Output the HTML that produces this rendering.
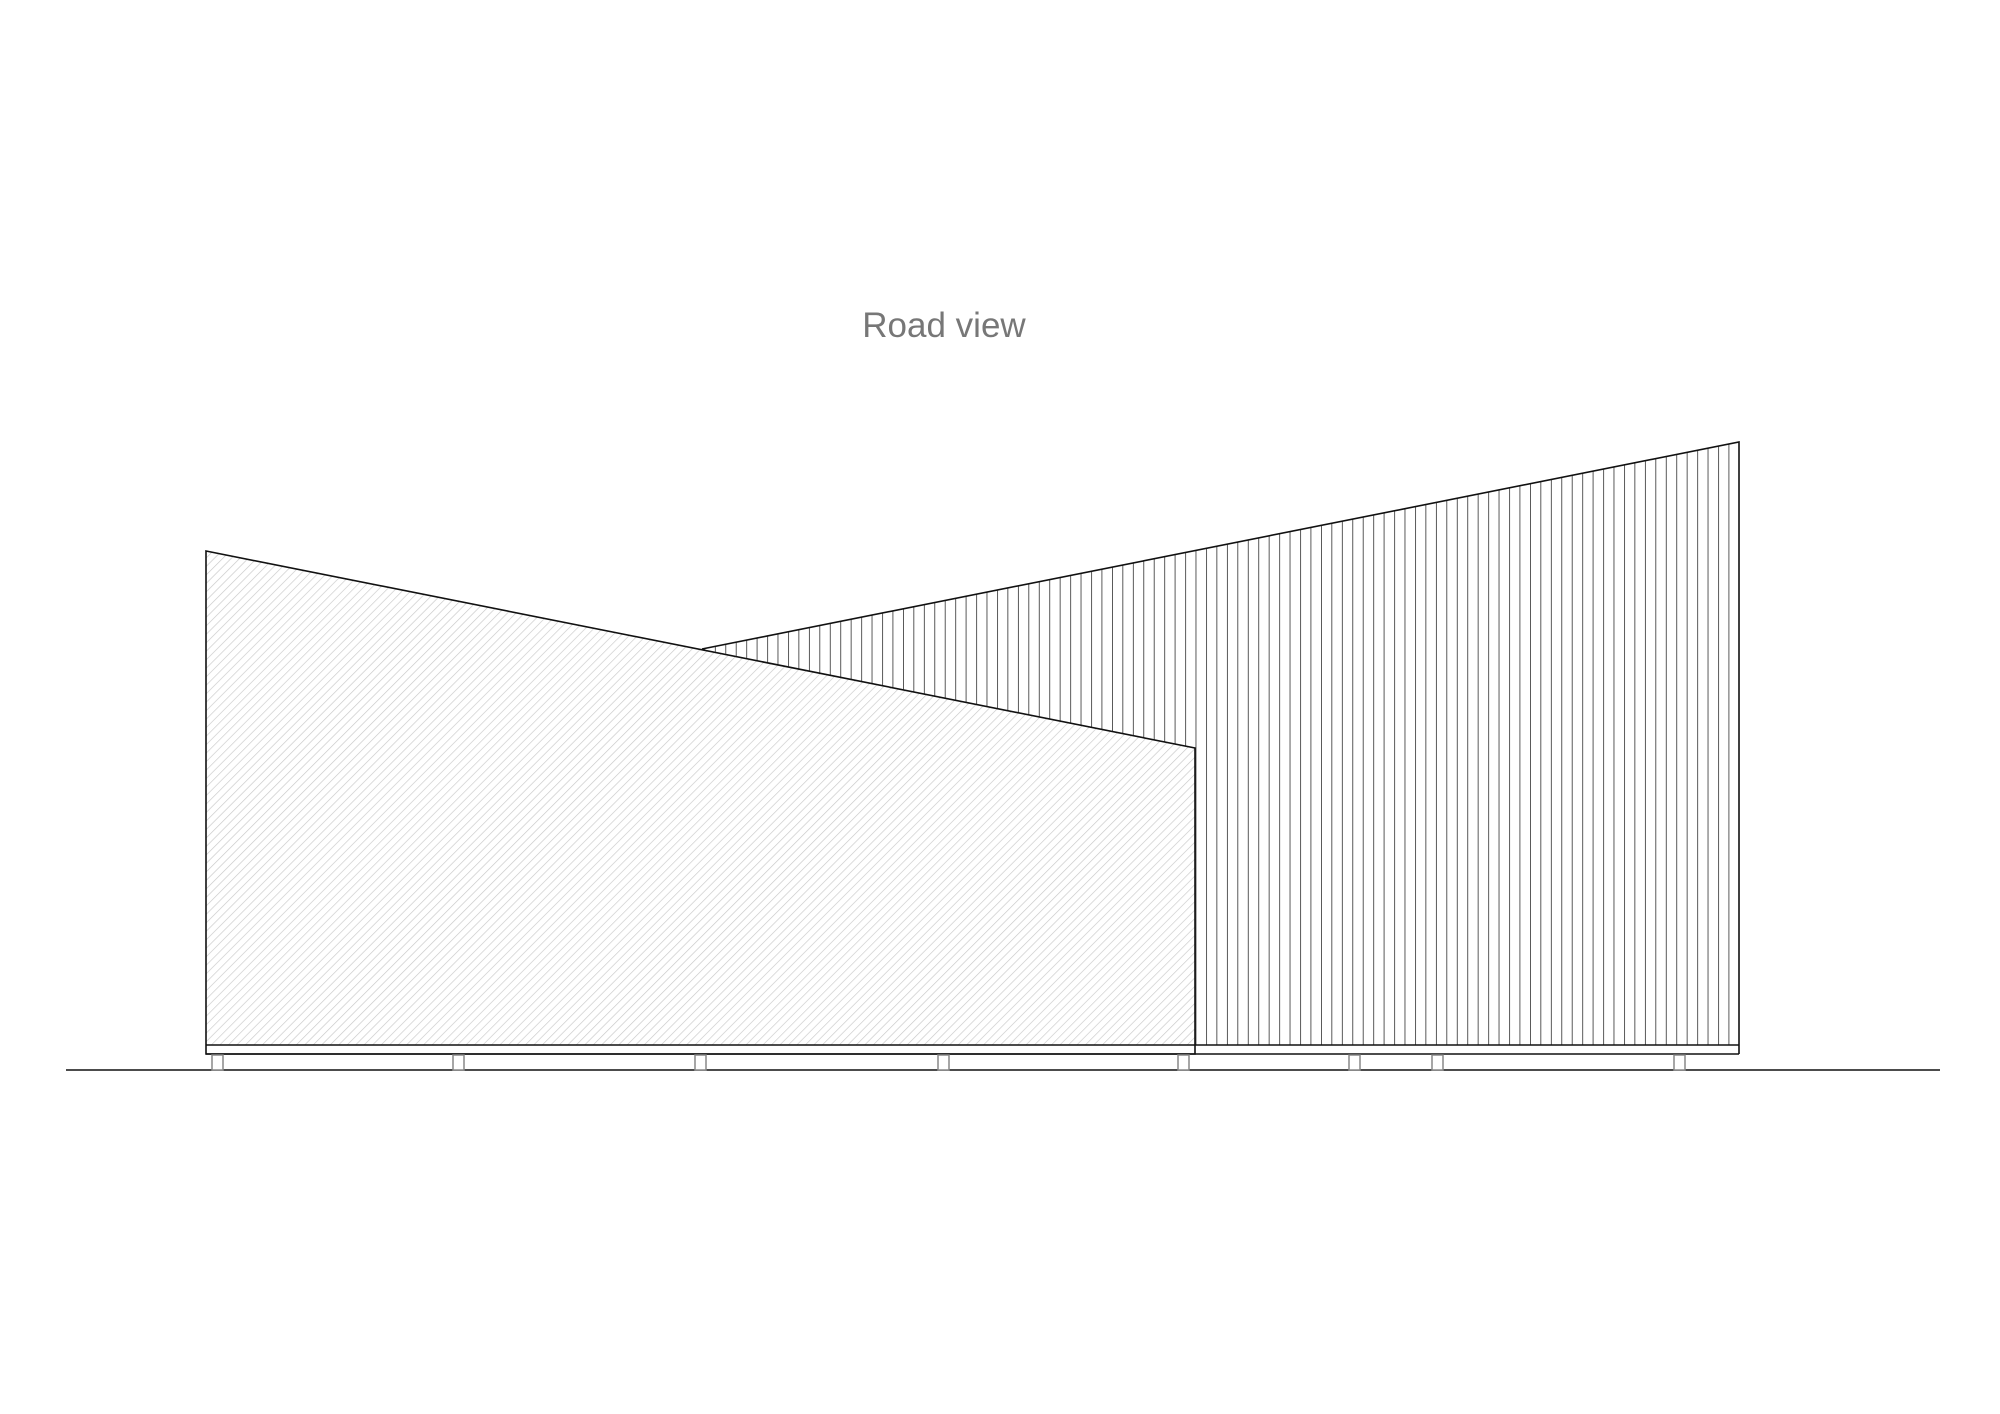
<!DOCTYPE html>
<html><head><meta charset="utf-8"><style>html,body{margin:0;padding:0;background:#fff}svg{display:block}</style></head>
<body>
<svg width="2000" height="1414" viewBox="0 0 2000 1414" xmlns="http://www.w3.org/2000/svg">
<defs>
<pattern id="hatch" patternUnits="userSpaceOnUse" width="6" height="6" patternTransform="rotate(45)">
<line x1="0" y1="0" x2="0" y2="6" stroke="#c8c8c8" stroke-width="1.3"/>
</pattern>
<pattern id="clad" patternUnits="userSpaceOnUse" x="1739" y="0" width="10.45" height="20">
<line x1="0" y1="0" x2="0" y2="20" stroke="#222" stroke-width="1.5"/>
</pattern>
</defs>
<text x="944" y="337" text-anchor="middle" font-family="Liberation Sans, Arial, sans-serif" font-size="35" fill="#777">Road view</text>
<polygon points="702,649 1739,442 1739,1045 1195,1045 1195,748" fill="url(#clad)"/>
<polygon points="206,551 1195,748 1195,1045 206,1045" fill="url(#hatch)"/>
<g fill="none" stroke="#111" stroke-width="1.6">
<polyline points="702,649 1739,442 1739,1054"/>
<polygon points="206,551 1195,748 1195,1054 206,1054"/>
<line x1="206" y1="1045" x2="1739" y2="1045"/>
<line x1="206" y1="1054" x2="1739" y2="1054"/>
<line x1="66" y1="1070" x2="1940" y2="1070"/>
</g>
<g fill="#fff" stroke="#888" stroke-width="1.5">
<rect x="212" y="1055" width="11" height="15"/>
<rect x="453" y="1055" width="11" height="15"/>
<rect x="695" y="1055" width="11" height="15"/>
<rect x="938" y="1055" width="11" height="15"/>
<rect x="1178" y="1055" width="11" height="15"/>
<rect x="1349" y="1055" width="11" height="15"/>
<rect x="1432" y="1055" width="11" height="15"/>
<rect x="1674" y="1055" width="11" height="15"/>
</g>
</svg>
</body></html>
